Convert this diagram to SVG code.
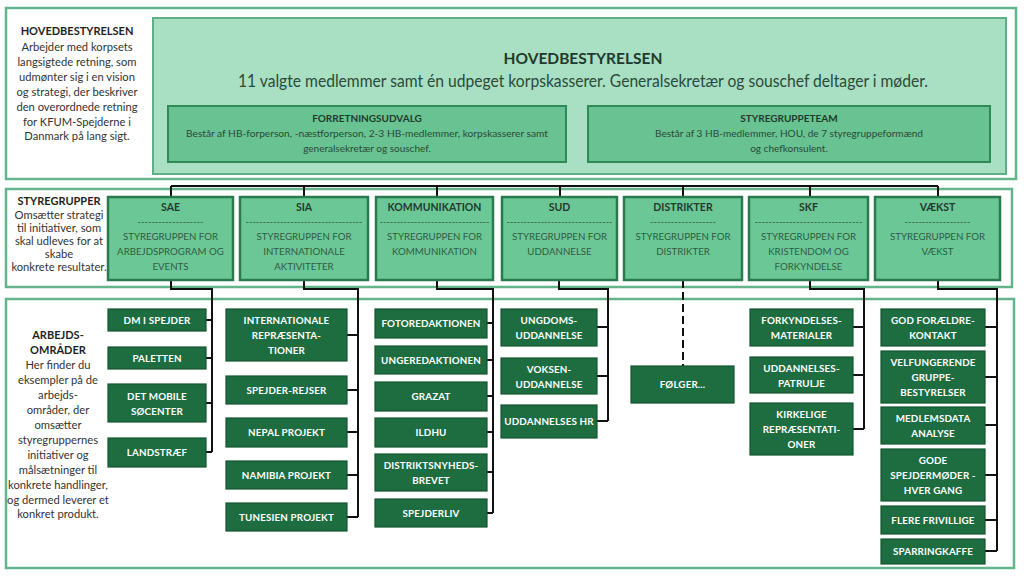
<svg xmlns="http://www.w3.org/2000/svg" width="1024" height="576" viewBox="0 0 1024 576">
<style>
  .sec{fill:#ffffff;stroke:#63b38b;stroke-width:2.5}
  .hb{fill:#a9dfc2;stroke:#5fae87;stroke-width:2}
  .sub{fill:#69c291;stroke:#2f8a58;stroke-width:2}
  .sg{fill:#6cc796;stroke:#2a7a4f;stroke-width:2.5}
  .ao{fill:#1d6d41;stroke:#15552f;stroke-width:1.2}
  .lt{font-family:Lato,"Liberation Sans",sans-serif;text-anchor:middle;fill:#333333;font-size:11.2px}
  .lth{font-family:Lato,"Liberation Sans",sans-serif;text-anchor:middle;fill:#1f1f1f;font-size:11px;font-weight:bold}
  .t1{font-family:Lato,"Liberation Sans",sans-serif;text-anchor:middle;fill:#1f3a2c;font-size:15.5px;font-weight:bold}
  .t2{font-family:Lato,"Liberation Sans",sans-serif;text-anchor:middle;fill:#2b4a3a;font-size:17px}
  .st{font-family:Lato,"Liberation Sans",sans-serif;text-anchor:middle;fill:#1f3a2c;font-size:10px;font-weight:bold}
  .sb{font-family:Lato,"Liberation Sans",sans-serif;text-anchor:middle;fill:#2a4a38;font-size:10px}
  .gt{font-family:Lato,"Liberation Sans",sans-serif;text-anchor:middle;fill:#233a2e;font-size:10.5px;font-weight:bold}
  .gb{font-family:Lato,"Liberation Sans",sans-serif;text-anchor:middle;fill:#2f5c43;font-size:9.7px}
  .at{font-family:Lato,"Liberation Sans",sans-serif;text-anchor:middle;fill:#ffffff;font-size:9.8px;font-weight:bold;letter-spacing:0.15px}
  .cn{fill:none;stroke:#111111;stroke-width:2}
  .dash{fill:none;stroke:#111111;stroke-width:2;stroke-dasharray:8 4}
</style>

<!-- Section frames -->
<g id="sections">
  <rect class="sec" x="6" y="8" width="1010" height="171"/>
  <rect class="sec" x="6" y="189" width="1006" height="98"/>
  <rect class="sec" x="6" y="299" width="1008" height="269"/>
</g>

<!-- Left description texts -->
<g id="desc-hb">
  <text class="lth" x="77" y="35">HOVEDBESTYRELSEN</text>
  <text class="lt" x="77" y="51">Arbejder med korpsets</text>
  <text class="lt" x="77" y="66">langsigtede retning, som</text>
  <text class="lt" x="77" y="81">udmønter sig i en vision</text>
  <text class="lt" x="77" y="96">og strategi, der beskriver</text>
  <text class="lt" x="77" y="111">den overordnede retning</text>
  <text class="lt" x="77" y="126">for KFUM-Spejderne i</text>
  <text class="lt" x="77" y="140">Danmark på lang sigt.</text>
</g>
<g id="desc-sg">
  <text class="lth" x="59" y="205">STYREGRUPPER</text>
  <text class="lt" x="59" y="219">Omsætter strategi</text>
  <text class="lt" x="59" y="232">til initiativer, som</text>
  <text class="lt" x="59" y="245">skal udleves for at</text>
  <text class="lt" x="59" y="258">skabe</text>
  <text class="lt" x="59" y="271">konkrete resultater.</text>
</g>
<g id="desc-ao">
  <text class="lth" x="58" y="339">ARBEJDS-</text>
  <text class="lth" x="58" y="354">OMRÅDER</text>
  <text class="lt" x="58" y="369">Her finder du</text>
  <text class="lt" x="58" y="384">eksempler på de</text>
  <text class="lt" x="58" y="399">arbejds-</text>
  <text class="lt" x="58" y="414">områder, der</text>
  <text class="lt" x="58" y="429">omsætter</text>
  <text class="lt" x="58" y="444">styregruppernes</text>
  <text class="lt" x="58" y="459">initiativer og</text>
  <text class="lt" x="58" y="474">målsætninger til</text>
  <text class="lt" x="58" y="489">konkrete handlinger,</text>
  <text class="lt" x="58" y="504">og dermed leverer et</text>
  <text class="lt" x="58" y="518">konkret produkt.</text>
</g>

<!-- Hovedbestyrelsen -->
<g id="hovedbestyrelsen">
  <rect class="hb" x="153" y="18" width="853" height="156"/>
  <text class="t1" x="583" y="64">HOVEDBESTYRELSEN</text>
  <text class="t2" x="583" y="87" textLength="690" lengthAdjust="spacingAndGlyphs">11 valgte medlemmer samt én udpeget korpskasserer. Generalsekretær og souschef deltager i møder.</text>
</g>
<g id="forretningsudvalg">
  <rect class="sub" x="168" y="106" width="398" height="56"/>
  <text class="st" x="367" y="122">FORRETNINGSUDVALG</text>
  <text class="sb" x="367" y="137" textLength="362" lengthAdjust="spacingAndGlyphs">Består af HB-forperson, -næstforperson, 2-3 HB-medlemmer, korpskasserer samt</text>
  <text class="sb" x="367" y="152">generalsekretær og souschef.</text>
</g>
<g id="styregruppeteam">
  <rect class="sub" x="588" y="106" width="402" height="56"/>
  <text class="st" x="789" y="122">STYREGRUPPETEAM</text>
  <text class="sb" x="789" y="137" textLength="268" lengthAdjust="spacingAndGlyphs">Består af 3 HB-medlemmer, HOU, de 7 styregruppeformænd</text>
  <text class="sb" x="789" y="152">og chefkonsulent.</text>
</g>

<!-- Connectors -->
<g id="connectors">
  <path class="cn" d="M171 186 H938 M171 186 V197 M304 186 V197 M437 186 V197 M560 186 V197 M683 186 V197 M810 186 V197 M938 186 V197"/>
  <path class="cn" d="M171 280 V289 H212 V452 M206 320 H212 M206 358 H212 M206 403 H212 M206 452 H212"/>
  <path class="cn" d="M304 280 V289 H358 V517 M347 335 H358 M347 390 H358 M347 432 H358 M347 475 H358 M347 517 H358"/>
  <path class="cn" d="M437 280 V289 H493 V513 M487 323 H493 M487 360 H493 M487 396 H493 M487 432 H493 M487 472 H493 M487 513 H493"/>
  <path class="cn" d="M559 280 V289 H608 V421 M597 327 H608 M597 376 H608 M597 421 H608"/>
  <path class="dash" d="M683 280 V366"/>
  <path class="cn" d="M810 280 V289 H864 V429 M853 327 H864 M853 375 H864 M853 429 H864"/>
  <path class="cn" d="M938 280 V289 H997 V551 M985 327 H997 M985 377 H997 M985 425 H997 M985 475 H997 M985 520 H997 M985 551 H997"/>
</g>

<!-- Styregrupper -->
<g id="sg-sae">
  <rect class="sg" x="108" y="197" width="125" height="83"/>
  <text class="gt" x="170.5" y="211">SAE</text>
  <text class="gb" x="170.5" y="225" textLength="66" lengthAdjust="spacingAndGlyphs">-------------------</text>
  <text class="gb" x="170.5" y="240">STYREGRUPPEN FOR</text>
  <text class="gb" x="170.5" y="255">ARBEJDSPROGRAM OG</text>
  <text class="gb" x="170.5" y="270">EVENTS</text>
</g>
<g id="sg-sia">
  <rect class="sg" x="240" y="197" width="128" height="83"/>
  <text class="gt" x="304" y="211">SIA</text>
  <text class="gb" x="304" y="225" textLength="117" lengthAdjust="spacingAndGlyphs">----------------------------------</text>
  <text class="gb" x="304" y="240">STYREGRUPPEN FOR</text>
  <text class="gb" x="304" y="255">INTERNATIONALE</text>
  <text class="gb" x="304" y="270">AKTIVITETER</text>
</g>
<g id="sg-kommunikation">
  <rect class="sg" x="376" y="197" width="117" height="83"/>
  <text class="gt" x="434.5" y="211">KOMMUNIKATION</text>
  <text class="gb" x="434.5" y="225" textLength="110" lengthAdjust="spacingAndGlyphs">--------------------------------</text>
  <text class="gb" x="434.5" y="240">STYREGRUPPEN FOR</text>
  <text class="gb" x="434.5" y="255">KOMMUNIKATION</text>
</g>
<g id="sg-sud">
  <rect class="sg" x="502" y="197" width="115" height="83"/>
  <text class="gt" x="559.5" y="211">SUD</text>
  <text class="gb" x="559.5" y="225" textLength="106" lengthAdjust="spacingAndGlyphs">-------------------------------</text>
  <text class="gb" x="559.5" y="240">STYREGRUPPEN FOR</text>
  <text class="gb" x="559.5" y="255">UDDANNELSE</text>
</g>
<g id="sg-distrikter">
  <rect class="sg" x="624" y="197" width="118" height="83"/>
  <text class="gt" x="683" y="211">DISTRIKTER</text>
  <text class="gb" x="683" y="225" textLength="66" lengthAdjust="spacingAndGlyphs">-------------------</text>
  <text class="gb" x="683" y="240">STYREGRUPPEN FOR</text>
  <text class="gb" x="683" y="255">DISTRIKTER</text>
</g>
<g id="sg-skf">
  <rect class="sg" x="749" y="197" width="119" height="83"/>
  <text class="gt" x="808.5" y="211">SKF</text>
  <text class="gb" x="808.5" y="225" textLength="108" lengthAdjust="spacingAndGlyphs">-------------------------------</text>
  <text class="gb" x="808.5" y="240">STYREGRUPPEN FOR</text>
  <text class="gb" x="808.5" y="255">KRISTENDOM OG</text>
  <text class="gb" x="808.5" y="270">FORKYNDELSE</text>
</g>
<g id="sg-vaekst">
  <rect class="sg" x="875" y="197" width="125" height="83"/>
  <text class="gt" x="937.5" y="211">VÆKST</text>
  <text class="gb" x="937.5" y="225" textLength="66" lengthAdjust="spacingAndGlyphs">-------------------</text>
  <text class="gb" x="937.5" y="240">STYREGRUPPEN FOR</text>
  <text class="gb" x="937.5" y="255">VÆKST</text>
</g>

<!-- Arbejdsområder: SAE -->
<g id="ao-dm"><rect class="ao" x="108" y="309" width="98" height="22"/><text class="at" x="157" y="323.5">DM I SPEJDER</text></g>
<g id="ao-paletten"><rect class="ao" x="108" y="347" width="98" height="22"/><text class="at" x="157" y="361.5">PALETTEN</text></g>
<g id="ao-soecenter"><rect class="ao" x="108" y="384" width="98" height="38"/><text class="at" x="157" y="399.5">DET MOBILE</text><text class="at" x="157" y="414.5">SØCENTER</text></g>
<g id="ao-landstraef"><rect class="ao" x="108" y="438" width="98" height="29"/><text class="at" x="157" y="456">LANDSTRÆF</text></g>

<!-- SIA -->
<g id="ao-intrep"><rect class="ao" x="226" y="309" width="121" height="52"/><text class="at" x="286.5" y="324">INTERNATIONALE</text><text class="at" x="286.5" y="339">REPRÆSENTA-</text><text class="at" x="286.5" y="354">TIONER</text></g>
<g id="ao-rejser"><rect class="ao" x="226" y="376" width="121" height="28"/><text class="at" x="286.5" y="393.5">SPEJDER-REJSER</text></g>
<g id="ao-nepal"><rect class="ao" x="226" y="418" width="121" height="29"/><text class="at" x="286.5" y="436">NEPAL PROJEKT</text></g>
<g id="ao-namibia"><rect class="ao" x="226" y="461" width="121" height="28"/><text class="at" x="286.5" y="478.5">NAMIBIA PROJEKT</text></g>
<g id="ao-tunesien"><rect class="ao" x="226" y="503" width="121" height="28"/><text class="at" x="286.5" y="520.5">TUNESIEN PROJEKT</text></g>

<!-- KOMMUNIKATION -->
<g id="ao-foto"><rect class="ao" x="375" y="309" width="112" height="29"/><text class="at" x="431" y="327">FOTOREDAKTIONEN</text></g>
<g id="ao-unge"><rect class="ao" x="375" y="346" width="112" height="28"/><text class="at" x="431" y="363.5">UNGEREDAKTIONEN</text></g>
<g id="ao-grazat"><rect class="ao" x="375" y="382" width="112" height="29"/><text class="at" x="431" y="400">GRAZAT</text></g>
<g id="ao-ildhu"><rect class="ao" x="375" y="418" width="112" height="29"/><text class="at" x="431" y="436">ILDHU</text></g>
<g id="ao-distnyt"><rect class="ao" x="375" y="454" width="112" height="37"/><text class="at" x="431" y="468.5">DISTRIKTSNYHEDS-</text><text class="at" x="431" y="483.5">BREVET</text></g>
<g id="ao-spejderliv"><rect class="ao" x="375" y="499" width="112" height="28"/><text class="at" x="431" y="516.5">SPEJDERLIV</text></g>

<!-- SUD -->
<g id="ao-ungdoms"><rect class="ao" x="501" y="309" width="96" height="37"/><text class="at" x="549" y="323.5">UNGDOMS-</text><text class="at" x="549" y="338.5">UDDANNELSE</text></g>
<g id="ao-voksen"><rect class="ao" x="501" y="358" width="96" height="36"/><text class="at" x="549" y="372.5">VOKSEN-</text><text class="at" x="549" y="387.5">UDDANNELSE</text></g>
<g id="ao-uddhr"><rect class="ao" x="501" y="405" width="96" height="33"/><text class="at" x="549" y="425">UDDANNELSES HR</text></g>

<!-- DISTRIKTER -->
<g id="ao-foelger"><rect class="ao" x="631" y="366" width="103" height="37"/><text class="at" x="682.5" y="388">FØLGER...</text></g>

<!-- SKF -->
<g id="ao-forkynd"><rect class="ao" x="750" y="309" width="103" height="37"/><text class="at" x="801.5" y="323.5">FORKYNDELSES-</text><text class="at" x="801.5" y="338.5">MATERIALER</text></g>
<g id="ao-patrulje"><rect class="ao" x="750" y="357" width="103" height="36"/><text class="at" x="801.5" y="371.5">UDDANNELSES-</text><text class="at" x="801.5" y="386.5">PATRULJE</text></g>
<g id="ao-kirkelige"><rect class="ao" x="750" y="403" width="103" height="52"/><text class="at" x="801.5" y="418">KIRKELIGE</text><text class="at" x="801.5" y="433">REPRÆSENTATI-</text><text class="at" x="801.5" y="448">ONER</text></g>

<!-- VÆKST -->
<g id="ao-foraeldre"><rect class="ao" x="881" y="309" width="104" height="37"/><text class="at" x="933" y="323.5">GOD FORÆLDRE-</text><text class="at" x="933" y="338.5">KONTAKT</text></g>
<g id="ao-velfung"><rect class="ao" x="881" y="351" width="104" height="52"/><text class="at" x="933" y="366">VELFUNGERENDE</text><text class="at" x="933" y="381">GRUPPE-</text><text class="at" x="933" y="396">BESTYRELSER</text></g>
<g id="ao-medlem"><rect class="ao" x="881" y="407" width="104" height="37"/><text class="at" x="933" y="421.5">MEDLEMSDATA</text><text class="at" x="933" y="436.5">ANALYSE</text></g>
<g id="ao-gode"><rect class="ao" x="881" y="449" width="104" height="52"/><text class="at" x="933" y="464">GODE</text><text class="at" x="933" y="479">SPEJDERMØDER -</text><text class="at" x="933" y="494">HVER GANG</text></g>
<g id="ao-frivillige"><rect class="ao" x="881" y="506" width="104" height="28"/><text class="at" x="933" y="523.5">FLERE FRIVILLIGE</text></g>
<g id="ao-sparring"><rect class="ao" x="881" y="539" width="104" height="25"/><text class="at" x="933" y="555">SPARRINGKAFFE</text></g>
</svg>
